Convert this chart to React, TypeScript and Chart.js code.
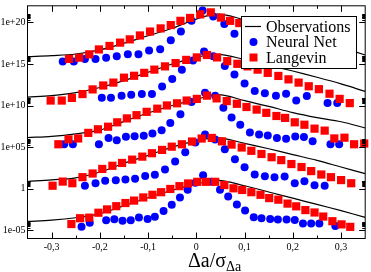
import React, { useEffect, useRef } from "react";
import { Chart, registerables } from "chart.js";
Chart.register(...registerables);

const X_MIN = -0.35;
const X_MAX = 0.35;
const Y_MIN = 1e-6;
const Y_MAX = 1e22;

const xTickValues = [-0.3, -0.2, -0.1, 0, 0.1, 0.2, 0.3];
const xTickLabels = ["-0,3", "-0,2", "-0,1", "0", "0,1", "0,2", "0,3"];
const xMinorTicks = [-0.25, -0.15, -0.05, 0.05, 0.15, 0.25];
const yTickValues = [1e-5, 1, 1e5, 1e10, 1e15, 1e20];
const yTickLabels = ["1e-05", "1", "1e+05", "1e+10", "1e+15", "1e+20"];
const yMinorMultipliers = [2, 3, 4, 5, 6, 7, 8, 9];

const legendLabels = ["Observations", "Neural Net", "Langevin"];

// Observations (log10 of value), shared x grid
const obsX = [-0.35, -0.3, -0.25, -0.2, -0.15, -0.1, -0.05, 0, 0.045, 0.1, 0.15, 0.2, 0.25, 0.3, 0.35];
const obsG0 = [-3.95, -3.8, -3.5, -3.0, -2.05, -1.1, -0.2, 0.55, 1.0, 0.35, -0.4, -1.15, -1.9, -2.65, -3.45];
const obsG1 = [0.86, 1.05, 1.3, 2.0, 3.05, 4.0, 5.0, 5.75, 6.1, 5.45, 4.8, 4.1, 3.4, 2.6, 1.8];
const obsG2 = [6.14, 6.3, 6.6, 7.05, 8.1, 9.1, 10.0, 10.75, 11.3, 10.6, 9.9, 9.15, 8.55, 8.05, 7.3];
const obsG3 = [11.0, 11.2, 11.55, 12.17, 13.0, 14.0, 15.0, 15.8, 16.15, 15.55, 14.85, 14.15, 13.4, 12.6, 11.7];
const obsG4 = [15.88, 16.0, 16.2, 16.7, 17.5, 18.4, 19.3, 20.4, 21.0, 20.3, 19.5, 18.7, 17.9, 17.0, 16.08];

// Langevin (red squares)
const lanG0X = [-0.259, -0.241, -0.222, -0.203, -0.185, -0.166, -0.147, -0.129, -0.11, -0.091, -0.073, -0.054, -0.035, -0.017, 0.002, 0.02, 0.039, 0.058, 0.077, 0.095, 0.114, 0.133, 0.151, 0.17, 0.189, 0.207, 0.226, 0.245, 0.263, 0.282, 0.301, 0.319];
const lanG0 = [-4.26, -3.56, -3.49, -2.9, -2.5, -2.11, -1.73, -1.44, -1.06, -0.74, -0.43, -0.04, 0.3, 0.62, 0.82, 0.82, 0.82, 0.43, 0.04, -0.16, -0.43, -0.74, -1.14, -1.33, -1.8, -2.13, -2.58, -2.87, -3.36, -3.92, -4.3, -4.6];
const lanG1X = [-0.298, -0.277, -0.257, -0.236, -0.215, -0.195, -0.174, -0.154, -0.133, -0.112, -0.092, -0.071, -0.051, -0.03, -0.009, 0.011, 0.032, 0.053, 0.073, 0.094, 0.114, 0.135, 0.156, 0.176, 0.197, 0.218, 0.238, 0.259, 0.279, 0.3, 0.321];
const lanG1 = [0.35, 0.85, 0.65, 1.38, 1.82, 2.37, 2.75, 3.09, 3.49, 3.85, 4.26, 4.66, 5.05, 5.34, 5.67, 6.03, 6.1, 5.69, 5.3, 4.95, 4.55, 4.17, 3.78, 3.43, 2.96, 2.6, 2.11, 1.7, 1.38, 1.03, 0.65];
const lanG2X = [-0.286, -0.265, -0.245, -0.224, -0.204, -0.183, -0.164, -0.144, -0.124, -0.103, -0.081, -0.061, -0.04, -0.02, 0.001, 0.022, 0.042, 0.063, 0.084, 0.104, 0.125, 0.145, 0.166, 0.184, 0.204, 0.224, 0.245, 0.266, 0.286, 0.307, 0.327, 0.348];
const lanG2 = [5.34, 5.93, 6.04, 6.71, 7.14, 7.45, 7.98, 8.45, 8.84, 9.24, 9.62, 10.01, 10.27, 10.6, 10.8, 11.19, 10.86, 10.53, 10.21, 9.82, 9.51, 9.12, 8.74, 8.51, 7.98, 7.69, 7.22, 6.98, 6.04, 6.13, 5.34, 5.43];
const lanG3X = [-0.302, -0.279, -0.258, -0.236, -0.215, -0.193, -0.172, -0.15, -0.129, -0.108, -0.087, -0.065, -0.043, -0.021, 0.001, 0.022, 0.043, 0.064, 0.085, 0.106, 0.127, 0.148, 0.17, 0.191, 0.212, 0.233, 0.254, 0.276, 0.297, 0.318];
const lanG3 = [10.6, 10.6, 10.92, 11.38, 11.94, 12.41, 12.76, 13.35, 13.58, 13.93, 14.32, 14.71, 15.11, 15.49, 15.79, 16.08, 15.79, 15.34, 15.02, 14.71, 14.32, 13.93, 13.56, 13.15, 12.76, 12.32, 11.97, 11.42, 10.8, 10.29];
const lanG4X = [-0.264, -0.243, -0.222, -0.202, -0.18, -0.158, -0.138, -0.117, -0.096, -0.074, -0.053, -0.033, -0.013, 0.008, 0.03, 0.051, 0.07, 0.089];
const lanG4 = [15.61, 15.76, 16.16, 16.75, 17.17, 17.57, 17.96, 18.43, 18.9, 19.28, 19.68, 20.19, 20.54, 20.97, 21.21, 20.58, 20.19, 19.92];

// Neural Net (blue circles)
const nnG0X = [-0.238, -0.221, -0.187, -0.17, -0.153, -0.136, -0.119, -0.101, -0.086, -0.068, -0.051, -0.034, -0.018, -0.002, 0.014, 0.032, 0.049, 0.066, 0.084, 0.101, 0.119, 0.135, 0.153, 0.169, 0.187, 0.204, 0.221, 0.238, 0.255, 0.288];
const nnG0 = [-4.58, -4.11, -3.79, -3.67, -3.87, -3.81, -3.46, -3.66, -3.38, -2.68, -1.95, -1.08, -0.14, 0.7, 1.6, 0.82, -0.14, -0.94, -1.92, -2.63, -3.45, -3.56, -3.65, -3.71, -3.71, -3.78, -4.2, -4.2, -4.2, -4.5];
const nnG1X = [-0.231, -0.209, -0.189, -0.167, -0.147, -0.127, -0.106, -0.086, -0.065, -0.044, -0.023, -0.002, 0.018, 0.039, 0.059, 0.08, 0.1, 0.121, 0.142, 0.162, 0.183, 0.204, 0.224, 0.245, 0.266];
const nnG1 = [0.35, 0.65, 0.94, 1.0, 1.11, 1.2, 1.53, 1.68, 2.31, 3.26, 4.37, 5.55, 6.51, 5.9, 4.75, 3.54, 2.58, 1.7, 1.49, 1.38, 1.47, 0.65, 0.88, 0.4, 0.35];
const nnG2X = [-0.274, -0.256, -0.202, -0.182, -0.165, -0.146, -0.128, -0.109, -0.091, -0.072, -0.054, -0.033, -0.01, 0.018, 0.039, 0.056, 0.073, 0.091, 0.111, 0.13, 0.148, 0.167, 0.186, 0.205, 0.223, 0.241, 0.278, 0.296];
const nnG2 = [5.34, 5.34, 5.35, 6.08, 5.83, 6.24, 6.31, 6.36, 6.63, 7.02, 7.89, 8.95, 10.41, 11.53, 11.19, 9.74, 8.57, 7.69, 6.75, 6.51, 6.4, 6.08, 5.99, 6.26, 6.22, 5.69, 5.34, 5.34];
const nnG3X = [-0.196, -0.177, -0.155, -0.135, -0.113, -0.092, -0.071, -0.05, -0.03, -0.007, 0.016, 0.035, 0.059, 0.079, 0.1, 0.121, 0.142, 0.165, 0.186, 0.207, 0.229, 0.272, 0.292];
const nnG3 = [10.95, 10.95, 11.19, 11.3, 11.38, 11.38, 12.3, 13.2, 14.32, 15.43, 16.5, 15.94, 14.77, 13.73, 12.64, 11.74, 11.47, 11.19, 11.43, 10.6, 11.15, 10.29, 10.29];
const nnG4X = [-0.277, -0.254, -0.231, -0.209, -0.187, -0.165, -0.142, -0.12, -0.098, -0.075, -0.053, -0.032, -0.01, 0.013, 0.035, 0.058, 0.079];
const nnG4 = [15.29, 15.29, 15.61, 15.61, 15.76, 15.94, 16.16, 16.16, 16.63, 16.78, 17.84, 18.9, 20.19, 21.42, 20.7, 19.8, 18.63];

const obsGroups = [obsG0, obsG1, obsG2, obsG3, obsG4];
const lanGroups: [number[], number[]][] = [[lanG0X, lanG0], [lanG1X, lanG1], [lanG2X, lanG2], [lanG3X, lanG3], [lanG4X, lanG4]];
const nnGroups: [number[], number[]][] = [[nnG0X, nnG0], [nnG1X, nnG1], [nnG2X, nnG2], [nnG3X, nnG3], [nnG4X, nnG4]];

const toPoints = (xs: number[], logs: number[]) => xs.map((x, i) => ({ x, y: Math.pow(10, logs[i]) }));

const RED = "#ff0000";
const BLUE = "#0000ff";
const SERIF = '"Liberation Serif", "Times New Roman", serif';

const decorPlugin = {
  id: "decor",
  afterDraw(chart: any) {
    const { ctx, chartArea: a, scales } = chart;
    const xs = scales.x;
    const ys = scales.y;
    const MAJ = 6;
    const MIN = 3;
    ctx.save();
    ctx.strokeStyle = "#000";
    ctx.lineWidth = 1;
    ctx.strokeRect(a.left, a.top, a.right - a.left, a.bottom - a.top);
    ctx.beginPath();
    const seg = (x1: number, y1: number, x2: number, y2: number) => {
      ctx.moveTo(x1, y1);
      ctx.lineTo(x2, y2);
    };
    xTickValues.forEach((v) => {
      const px = Math.round(xs.getPixelForValue(v)) + 0.5;
      seg(px, a.bottom, px, a.bottom - MAJ);
      seg(px, a.top, px, a.top + MAJ);
    });
    xMinorTicks.forEach((v) => {
      const px = Math.round(xs.getPixelForValue(v)) + 0.5;
      seg(px, a.bottom, px, a.bottom - MIN);
      seg(px, a.top, px, a.top + MIN);
    });
    yTickValues.forEach((v) => {
      const py = Math.round(ys.getPixelForValue(v)) + 0.5;
      seg(a.left, py, a.left + MAJ, py);
      seg(a.right, py, a.right - MAJ, py);
      yMinorMultipliers.forEach((m) => {
        const qy = Math.round(ys.getPixelForValue(v * m)) + 0.5;
        seg(a.left, qy, a.left + MIN, qy);
        seg(a.right, qy, a.right - MIN, qy);
      });
    });
    ctx.stroke();

    ctx.fillStyle = "#000";
    ctx.font = `10px ${SERIF}`;
    ctx.textAlign = "center";
    ctx.textBaseline = "middle";
    xTickValues.forEach((v, i) => {
      ctx.fillText(xTickLabels[i], xs.getPixelForValue(v), a.bottom + 9);
    });
    ctx.textAlign = "right";
    yTickValues.forEach((v, i) => {
      ctx.fillText(yTickLabels[i], a.left - 2, ys.getPixelForValue(v));
    });

    // axis title  Δa/σ_Δa
    ctx.textAlign = "left";
    ctx.textBaseline = "alphabetic";
    ctx.font = `20px ${SERIF}`;
    const main = "Δa/σ";
    const tx = 188;
    ctx.fillText(main, tx, 267);
    const w = ctx.measureText(main).width;
    ctx.font = `14px ${SERIF}`;
    ctx.fillText("Δa", tx + w, 271);

    // legend
    const lx = 241.5, ly = 16.5, lw = 115, lh = 52;
    ctx.fillStyle = "#fff";
    ctx.fillRect(lx, ly, lw, lh);
    ctx.strokeStyle = "#000";
    ctx.strokeRect(lx, ly, lw, lh);
    const rows = [26.5, 42, 57.5];
    ctx.beginPath();
    ctx.moveTo(245, rows[0]);
    ctx.lineTo(261, rows[0]);
    ctx.lineWidth = 1.2;
    ctx.stroke();
    ctx.fillStyle = BLUE;
    ctx.beginPath();
    ctx.arc(253.5, rows[1], 4, 0, Math.PI * 2);
    ctx.fill();
    ctx.fillStyle = RED;
    ctx.fillRect(249.5, rows[2] - 4, 8, 8);
    ctx.fillStyle = "#000";
    ctx.font = `16px ${SERIF}`;
    ctx.textBaseline = "middle";
    legendLabels.forEach((t, i) => ctx.fillText(t, 266, rows[i] + 1));
    ctx.restore();
  },
};

export default function App() {
  const ref = useRef<HTMLCanvasElement | null>(null);
  useEffect(() => {
    document.body.style.margin = "0";
    const canvas = ref.current;
    if (!canvas) return;
    const datasets: any[] = [];
    lanGroups.forEach(([xs, ls], g) => {
      datasets.push({
        label: "Langevin " + g,
        data: toPoints(xs, ls),
        showLine: false,
        pointStyle: "rect",
        pointRadius: 5.8,
        pointBackgroundColor: RED,
        pointBorderWidth: 0,
        borderColor: RED,
        clip: false,
        order: 0,
      });
    });
    nnGroups.forEach(([xs, ls], g) => {
      datasets.push({
        label: "Neural Net " + g,
        data: toPoints(xs, ls),
        showLine: false,
        pointStyle: "circle",
        pointRadius: 4,
        pointBackgroundColor: BLUE,
        pointBorderWidth: 0,
        borderColor: BLUE,
        clip: false,
        order: 1,
      });
    });
    obsGroups.forEach((ls, g) => {
      datasets.push({
        label: "Observations " + g,
        data: toPoints(obsX, ls),
        showLine: true,
        pointRadius: 0,
        borderColor: "#000",
        borderWidth: 1.2,
        tension: 0.35,
        fill: false,
        order: 2,
      });
    });
    const chart = new Chart(canvas, {
      type: "scatter",
      data: { datasets },
      options: {
        animation: false,
        responsive: false,
        devicePixelRatio: 1,
        layout: { padding: { left: 27.5, right: 3.5, top: 0.5, bottom: 33.5 } },
        plugins: { legend: { display: false }, tooltip: { enabled: false } },
        events: [],
        scales: {
          x: { type: "linear", min: X_MIN, max: X_MAX, display: false },
          y: { type: "logarithmic", min: Y_MIN, max: Y_MAX, display: false },
        },
      },
      plugins: [decorPlugin],
    });
    return () => chart.destroy();
  }, []);
  return <canvas ref={ref} width={371} height={272} style={{ display: "block", width: 371, height: 272 }} />;
}
